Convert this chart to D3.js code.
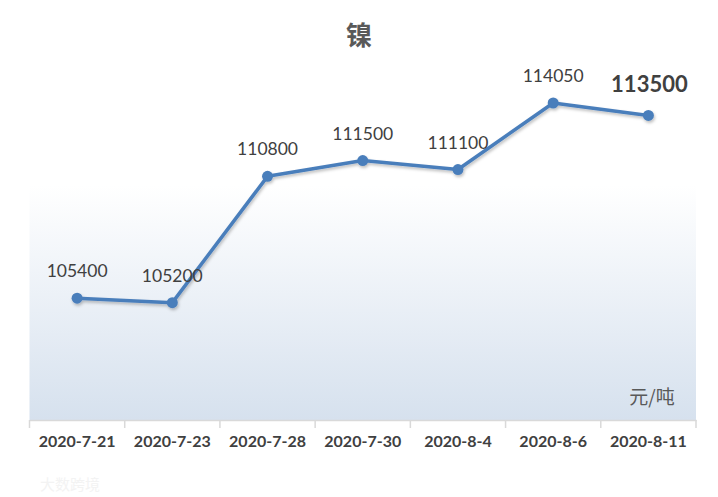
<!DOCTYPE html>
<html><head><meta charset="utf-8">
<script src="https://cdn.jsdelivr.net/npm/d3@7"></script>
<style>body{margin:0;background:#fff;}svg{display:block;}</style>
</head><body>
<script>
const categories = ["2020-7-21","2020-7-23","2020-7-28","2020-7-30","2020-8-4","2020-8-6","2020-8-11"];
const values = [105400,105200,110800,111500,111100,114050,113500];
const title = "镍";
const unit = "元/吨";

const W = 718, H = 497;
const m = {left:29.5, right:22, top:59, bottom:77};
const svg = d3.select("body").append("svg").attr("width",W).attr("height",H);
const defs = svg.append("defs");
const g1 = defs.append("linearGradient").attr("id","bg").attr("x1",0).attr("y1",0).attr("x2",0).attr("y2",1);
g1.append("stop").attr("offset","0%").attr("stop-color","#ffffff");
g1.append("stop").attr("offset","35%").attr("stop-color","#ffffff");
g1.append("stop").attr("offset","100%").attr("stop-color","#d6e1ee");
const f = defs.append("filter").attr("id","sh").attr("x","-10%").attr("y","-10%").attr("width","120%").attr("height","130%");
f.append("feDropShadow").attr("dx",1).attr("dy",2).attr("stdDeviation",1.5).attr("flood-color","#000").attr("flood-opacity",0.25);

const x = d3.scaleBand().domain(categories).range([m.left, W-m.right]);
const y = d3.scaleLinear().domain([100000,116000]).range([H-m.bottom, m.top]);

svg.append("rect").attr("x",m.left).attr("y",m.top).attr("width",W-m.right-m.left).attr("height",H-m.bottom-m.top).attr("fill","url(#bg)");

const ax = svg.append("g").attr("transform",`translate(0,${H-m.bottom})`)
  .call(d3.axisBottom(x).tickSize(0).tickPadding(16));
ax.select(".domain").attr("stroke","#d9d9d9").attr("stroke-width",1.5);
ax.selectAll("text").attr("font-family","Lato, 'Liberation Sans', sans-serif").attr("font-weight","bold").attr("font-size",16).attr("fill","#404040");
const bounds = categories.map(c=>x(c)).concat([x(categories[categories.length-1])+x.bandwidth()]);
ax.selectAll(".bt").data(bounds).enter().append("line").attr("class","bt")
  .attr("x1",d=>d).attr("x2",d=>d).attr("y1",0).attr("y2",8).attr("stroke","#d9d9d9").attr("stroke-width",1.5);

const cx = d=>x(d)+x.bandwidth()/2;
const line = d3.line().x((d,i)=>cx(categories[i])).y(d=>y(d));
const gl = svg.append("g").attr("filter","url(#sh)");
gl.append("path").datum(values).attr("d",line).attr("fill","none").attr("stroke","#4a7ebb").attr("stroke-width",3.5).attr("stroke-linejoin","round");
gl.selectAll("circle").data(values).enter().append("circle")
  .attr("cx",(d,i)=>cx(categories[i])).attr("cy",d=>y(d)).attr("r",5.5).attr("fill","#4a7ebb");

svg.selectAll(".lbl").data(values).enter().append("text")
  .attr("x",(d,i)=>cx(categories[i])+(i===6?1:0)).attr("y",(d,i)=>y(d)-(i===6?23:21))
  .attr("text-anchor","middle")
  .attr("font-family","Lato, 'Liberation Sans', sans-serif")
  .attr("font-size",(d,i)=>i===6?22:17.5)
  .attr("font-weight",(d,i)=>i===6?"bold":"normal")
  .attr("fill","#404040").text(d=>d);

svg.append("text").attr("x",W/2).attr("y",45).attr("text-anchor","middle")
  .attr("font-family","'Noto Sans CJK SC', sans-serif").attr("font-weight","bold").attr("font-size",26).attr("fill","#595959").text(title);

svg.append("text").attr("x",652).attr("y",404).attr("text-anchor","middle")
  .attr("font-family","'Noto Sans CJK SC', sans-serif").attr("font-size",19).attr("fill","#595959").text(unit);

svg.append("text").attr("x",40).attr("y",490)
  .attr("font-family","'Noto Sans CJK SC', sans-serif").attr("font-size",15).attr("fill","#f3f3f3").text("大数跨境");
</script>
</body></html>
